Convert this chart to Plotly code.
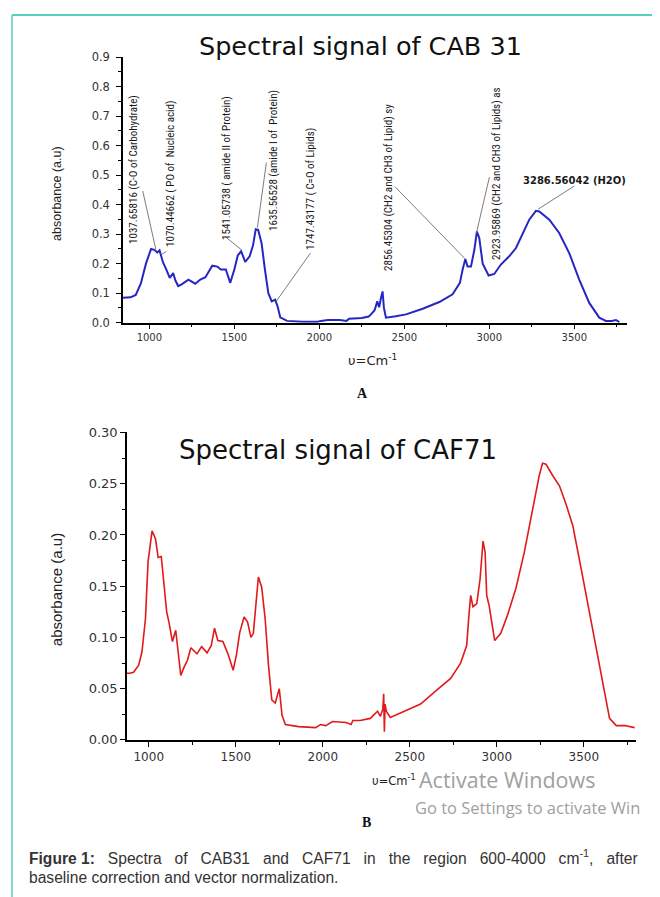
import numpy as np
import plotly.graph_objects as go

# ---------------- data ----------------
cab_wn = [845, 890, 920, 950, 980, 1010, 1030, 1046, 1060, 1080, 1100, 1120, 1140, 1154, 1170,
          1190, 1230, 1270, 1300, 1330, 1370, 1400, 1420, 1450, 1476, 1500, 1520, 1540, 1564,
          1590, 1610, 1626, 1640, 1660, 1680, 1700, 1720, 1740, 1754, 1770, 1810, 1900, 1990,
          2010, 2050, 2120, 2160, 2175, 2250, 2290, 2304, 2325, 2341, 2352, 2362, 2372, 2380,
          2392, 2450, 2510, 2608, 2706, 2784, 2827, 2843, 2859, 2872, 2892, 2912, 2927, 2941,
          2961, 2996, 3029, 3068, 3117, 3157, 3196, 3235, 3274, 3294, 3353, 3411, 3470, 3529,
          3588, 3647, 3686, 3720, 3745, 3765]
cab_abs = [0.084, 0.086, 0.094, 0.133, 0.200, 0.250, 0.247, 0.238, 0.245, 0.205, 0.180, 0.152,
           0.168, 0.142, 0.124, 0.130, 0.146, 0.132, 0.146, 0.154, 0.193, 0.190, 0.180, 0.180,
           0.135, 0.180, 0.228, 0.242, 0.206, 0.225, 0.262, 0.317, 0.315, 0.270, 0.180, 0.100,
           0.072, 0.078, 0.056, 0.018, 0.006, 0.003, 0.003, 0.006, 0.009, 0.009, 0.006, 0.013,
           0.016, 0.021, 0.028, 0.042, 0.072, 0.052, 0.082, 0.106, 0.050, 0.017, 0.022, 0.028,
           0.047, 0.070, 0.096, 0.135, 0.180, 0.216, 0.190, 0.190, 0.247, 0.309, 0.287, 0.200,
           0.160, 0.165, 0.197, 0.225, 0.253, 0.304, 0.349, 0.379, 0.377, 0.349, 0.304, 0.236,
           0.146, 0.067, 0.017, 0.006, 0.006, 0.009, 0.002]

caf_wn = [875, 890, 913, 942, 961, 981, 996, 1019, 1039, 1054, 1072, 1087, 1103, 1116, 1136,
          1155, 1169, 1184, 1203, 1223, 1242, 1277, 1304, 1335, 1359, 1378, 1397, 1426, 1455,
          1485, 1504, 1523, 1548, 1568, 1587, 1601, 1630, 1649, 1669, 1688, 1707, 1727, 1750,
          1766, 1785, 1862, 1959, 1988, 2017, 2056, 2134, 2163, 2173, 2215, 2273, 2315, 2331,
          2345, 2350, 2354, 2358, 2365, 2388, 2465, 2562, 2658, 2735, 2792, 2827, 2840, 2850,
          2863, 2885, 2904, 2921, 2933, 2942, 2956, 2988, 3023, 3062, 3110, 3158, 3206, 3244,
          3263, 3283, 3321, 3360, 3398, 3437, 3485, 3542, 3600, 3648, 3687, 3735, 3792]
caf_abs = [0.065, 0.065, 0.066, 0.073, 0.086, 0.118, 0.174, 0.204, 0.196, 0.178, 0.179, 0.151,
           0.125, 0.115, 0.096, 0.107, 0.086, 0.063, 0.071, 0.078, 0.090, 0.084, 0.091, 0.085,
           0.092, 0.109, 0.097, 0.096, 0.084, 0.068, 0.083, 0.105, 0.120, 0.115, 0.100, 0.104,
           0.159, 0.149, 0.118, 0.073, 0.039, 0.036, 0.050, 0.024, 0.015, 0.013, 0.012, 0.015,
           0.014, 0.018, 0.017, 0.015, 0.019, 0.019, 0.021, 0.028, 0.023, 0.030, 0.045, 0.008,
           0.035, 0.028, 0.022, 0.028, 0.035, 0.049, 0.060, 0.075, 0.092, 0.122, 0.141, 0.130,
           0.133, 0.157, 0.194, 0.183, 0.141, 0.131, 0.097, 0.104, 0.122, 0.148, 0.183, 0.225,
           0.258, 0.270, 0.269, 0.258, 0.248, 0.230, 0.209, 0.167, 0.115, 0.063, 0.021, 0.014,
           0.014, 0.012]

peak_wn = [1037.65816, 1070.44662, 1541.05738, 1635.56528, 1747.43177,
           2856.45304, 2923.95869, 3286.56042]
peak_labels = ["1037.65816 (C-O of Carbohydrate)",
               "1070.44662 ( PO of  Nucleic acid)",
               "1541.05738 ( amide II of Protein)",
               "1635.56528 (amide I of  Protein)",
               "1747.43177 ( C=O of Lipids)",
               "2856.45304 (CH2 and CH3 of Lipid) sy",
               "2923.95869 (CH2 and CH3 of Lipids) as",
               "3286.56042 (H2O)"]

caption_words = ["Spectra", "of", "CAB31", "and", "CAF71", "in", "the", "region",
                 "600-4000", "cm<sup>-1</sup>,", "after"]

# ---------------- layout helpers ----------------
W, H = 660, 897
OX, OY, SY = 7.0, 14.8, 0.985   # page offset compensation (screen px -> figure px)

def fx(x):
    return (x - OX) / W

def fy(y):
    return 1 - ((y - OY) / SY) / H

# label placement (pixel centres, angle) and leader tail offsets (pixels)
label_pos = [(133, 170, -90), (170, 174, -90), (226, 168, -90), (273, 161, -90),
             (310, 189, -90), (388, 188, -90), (496, 174, -90), (573, 181, 0)]
leader_off = [(-13, 60), (5, 5), (-16, 15), (9, 67), (34, 50), (-70, 74), (13, 58), (36, 25)]

WIDE = "DejaVu Sans, Verdana, sans-serif"
ARIAL = "Liberation Sans, Arial, sans-serif"
NARROW = "Liberation Sans Narrow, Arial Narrow, Roboto Condensed, Liberation Sans, Arial, sans-serif"

fig = go.Figure()
fig.add_trace(go.Scatter(x=cab_wn, y=cab_abs, mode="lines", xaxis="x", yaxis="y",
                         line=dict(color="#2626c4", width=2), showlegend=False, hoverinfo="skip"))
fig.add_trace(go.Scatter(x=caf_wn, y=caf_abs, mode="lines", xaxis="x2", yaxis="y2",
                         line=dict(color="#e01a1a", width=1.6), showlegend=False, hoverinfo="skip"))

def axis(domain, rng, dtick, mdtick, fsize, fmt=None, anchor=None, standoff=0):
    d = dict(domain=domain, range=rng, dtick=dtick, tick0=0, showline=True, linecolor="black",
             linewidth=1.5, ticks="outside", ticklen=5, tickwidth=1.2, tickcolor="black",
             showgrid=False, zeroline=False, ticklabelstandoff=standoff,
             tickfont=dict(family=WIDE, size=fsize, color="#333"),
             minor=dict(ticks="outside", ticklen=3, tickcolor="black", tickwidth=1, dtick=mdtick, tick0=0))
    if fmt:
        d["tickformat"] = fmt
    if anchor:
        d["anchor"] = anchor
    return d

fig.update_layout(
    width=W, height=H, margin=dict(l=0, r=0, t=0, b=0),
    paper_bgcolor="white", plot_bgcolor="white",
    xaxis=axis([fx(122), fx(626)], [845, 3810], 500, 250, 10, anchor="y"),
    yaxis=axis([fy(323), fy(57)], [0, 0.9], 0.1, 0.05, 11.5, fmt=".1f", anchor="x", standoff=4),
    xaxis2=axis([fx(126), fx(635)], [875, 3800], 500, 250, 12, anchor="y2"),
    yaxis2=axis([fy(741), fy(433)], [0, 0.30], 0.05, 0.025, 13, fmt=".2f", anchor="x2"),
)

shapes = []
# leader lines from each annotated peak on the CAB 31 curve
for wn, (dx, dy) in zip(peak_wn, leader_off):
    yv = float(np.interp(wn, cab_wn, cab_abs))
    shapes.append(dict(type="line", xref="x", yref="y", xsizemode="pixel", ysizemode="pixel",
                       xanchor=wn, yanchor=yv, x0=0, y0=2, x1=dx, y1=dy,
                       line=dict(color="#6d6d6d", width=0.9)))
# page frame
shapes.append(dict(type="line", xref="paper", yref="paper", x0=fx(11), x1=1.0, y0=1.0, y1=1.0,
                   line=dict(color="#55d0c3", width=2)))
shapes.append(dict(type="line", xref="paper", yref="paper", x0=fx(11), x1=fx(11), y0=1.0, y1=0,
                   line=dict(color="#55d0c3", width=1.5)))

ann = []
for lab, (x, y, ang) in zip(peak_labels, label_pos):
    if ang == 0:
        font = dict(family="DejaVu Sans, sans-serif", size=10, color="#1a1a1a")
        lab = "<b>" + lab + "</b>"
    else:
        font = dict(family=NARROW, size=11, color="#1a1a1a")
    ann.append(dict(x=fx(x), y=fy(y), xref="paper", yref="paper", text=lab, showarrow=False,
                    textangle=ang, xanchor="center", yanchor="middle", font=font))

def txt(x, y, t, size, color="#111", family=ARIAL, xanchor="center", angle=0):
    ann.append(dict(x=fx(x), y=fy(y), xref="paper", yref="paper", text=t, showarrow=False,
                    xanchor=xanchor, yanchor="middle", textangle=angle,
                    font=dict(family=family, size=size, color=color)))

txt(359, 46, "Spectral signal of CAB 31", 25.5, family=WIDE)
txt(337, 451, "Spectral signal of CAF71", 26, family=WIDE)
txt(56, 194, "absorbance (a.u)", 12.5, color="#222", angle=-90)
txt(55, 591, "absorbance (a.u)", 15, color="#222", angle=-90)
txt(372, 360, "υ=Cm<sup>-1</sup>", 13, color="#222", family=WIDE)
txt(393, 782, "υ=Cm<sup>-1</sup>", 11.5, color="#222", family=WIDE)
txt(361, 394, "<b>A</b>", 14, family="Liberation Serif, Times New Roman, serif")
txt(365, 824, "<b>B</b>", 14, family="Liberation Serif, Times New Roman, serif")
txt(416, 781, "Activate Windows", 21.5, color="#a0a0a0", family="Open Sans, Noto Sans, sans-serif", xanchor="left")
txt(412, 809, "Go to Settings to activate Win", 16.5, color="#a0a0a0", family="Open Sans, Noto Sans, sans-serif", xanchor="left")

NB = "\u00a0"
line1 = "<b>Figure" + NB + "1:</b>" + NB * 3 + (NB * 3).join(caption_words)
txt(26, 858, line1, 15.6, color="#333", xanchor="left")
txt(26, 879, "baseline correction and vector normalization.", 15.6, color="#333", xanchor="left")

fig.update_layout(annotations=ann, shapes=shapes)

fig.write_html("out.html")
